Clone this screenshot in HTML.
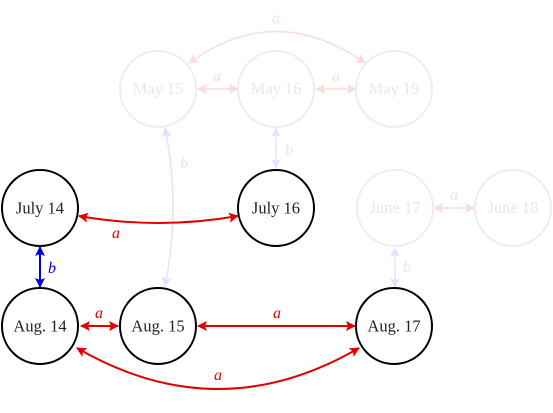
<!DOCTYPE html>
<html><head><style>
html,body{margin:0;padding:0;background:#fff;width:553px;height:413px;overflow:hidden}
svg text{font-family:"Liberation Serif",serif}
</style></head><body>
<svg width="553" height="413" viewBox="0 0 553 413" xmlns="http://www.w3.org/2000/svg">
<defs>
<marker id="r" viewBox="0 0 10 10" refX="9" refY="5" markerWidth="10" markerHeight="10" markerUnits="userSpaceOnUse" orient="auto-start-reverse"><path d="M0,0 L10,5 L0,10 L2,5 z" fill="#e00000"/></marker>
<marker id="b" viewBox="0 0 10 10" refX="9" refY="5" markerWidth="10" markerHeight="10" markerUnits="userSpaceOnUse" orient="auto-start-reverse"><path d="M0,0 L10,5 L0,10 L2,5 z" fill="#0000e0"/></marker>
<marker id="fr" viewBox="0 0 10 10" refX="9" refY="5" markerWidth="10" markerHeight="10" markerUnits="userSpaceOnUse" orient="auto-start-reverse"><path d="M0,0 L10,5 L0,10 L2,5 z" fill="#f9dcdc"/></marker>
<marker id="fb" viewBox="0 0 10 10" refX="9" refY="5" markerWidth="10" markerHeight="10" markerUnits="userSpaceOnUse" orient="auto-start-reverse"><path d="M0,0 L10,5 L0,10 L2,5 z" fill="#e2e2ff"/></marker>
</defs>
<g fill="none" stroke-width="1.5">
<path d="M189,63 Q276,0 365,63" stroke="#f9dcdc" marker-start="url(#fr)" marker-end="url(#fr)"/>
<path d="M198,89 L238,89" stroke="#f9dcdc" marker-start="url(#fr)" marker-end="url(#fr)"/>
<path d="M316,89 L356,89" stroke="#f9dcdc" marker-start="url(#fr)" marker-end="url(#fr)"/>
<path d="M434,208 L474,208" stroke="#f9dcdc" marker-start="url(#fr)" marker-end="url(#fr)"/>
<path d="M276,128 L276,168" stroke="#e2e2ff" marker-start="url(#fb)" marker-end="url(#fb)"/>
<path d="M395,248 L395,287" stroke="#e2e2ff" marker-start="url(#fb)" marker-end="url(#fb)"/>
<path d="M165,128 Q181,207 165,286" stroke="#e2e2ff" marker-start="url(#fb)" marker-end="url(#fb)"/>
</g>
<g fill="#fff" stroke="#ededed" stroke-width="2">
<circle cx="158" cy="89" r="38"/><circle cx="276" cy="89" r="38"/><circle cx="394" cy="89" r="38"/>
<circle cx="395" cy="208" r="38"/><circle cx="513" cy="208" r="38"/>
</g>
<g font-size="16.5" fill="#e8e8e8" text-anchor="middle">
<text x="158" y="94">May 15</text><text x="276" y="94">May 16</text><text x="394" y="94">May 19</text>
<text x="395" y="213">June 17</text><text x="513" y="213">June 18</text>
</g>
<g font-size="16" font-style="italic" fill="#f9dcdc" text-anchor="middle">
<text x="276" y="23">a</text><text x="217" y="81">a</text><text x="336" y="81">a</text><text x="454" y="200">a</text>
</g>
<g font-size="16" font-style="italic" fill="#e2e2ff" text-anchor="middle">
<text x="289" y="155">b</text><text x="407" y="272">b</text><text x="184" y="168">b</text>
</g>
<g fill="none" stroke-width="2">
<path d="M79,216 Q158,230 238,216" stroke="#e00000" marker-start="url(#r)" marker-end="url(#r)"/>
<path d="M81,326 L118,326" stroke="#e00000" marker-start="url(#r)" marker-end="url(#r)"/>
<path d="M198,326 L355,326" stroke="#e00000" marker-start="url(#r)" marker-end="url(#r)"/>
<path d="M77,348 Q218,430 359,348" stroke="#e00000" marker-start="url(#r)" marker-end="url(#r)"/>
<path d="M40,247 L40,287" stroke="#0000e0" marker-start="url(#b)" marker-end="url(#b)"/>
</g>
<g fill="#fff" stroke="#000" stroke-width="2">
<circle cx="40" cy="208" r="38"/><circle cx="276" cy="208" r="38"/>
<circle cx="40" cy="326" r="38"/><circle cx="158" cy="326" r="38"/><circle cx="394" cy="326" r="38"/>
</g>
<g font-size="16.5" fill="#222" text-anchor="middle">
<text x="40" y="213.5">July 14</text><text x="276" y="213.5">July 16</text>
<text x="40" y="331.5">Aug. 14</text><text x="158" y="331.5">Aug. 15</text><text x="394" y="331.5">Aug. 17</text>
</g>
<g font-size="16" font-style="italic" fill="#e00000" text-anchor="middle">
<text x="116" y="238">a</text><text x="99" y="318">a</text><text x="277" y="318">a</text><text x="218" y="380">a</text>
</g>
<text x="52" y="273" font-size="16" font-style="italic" fill="#0000e0" text-anchor="middle">b</text>
</svg>
</body></html>
